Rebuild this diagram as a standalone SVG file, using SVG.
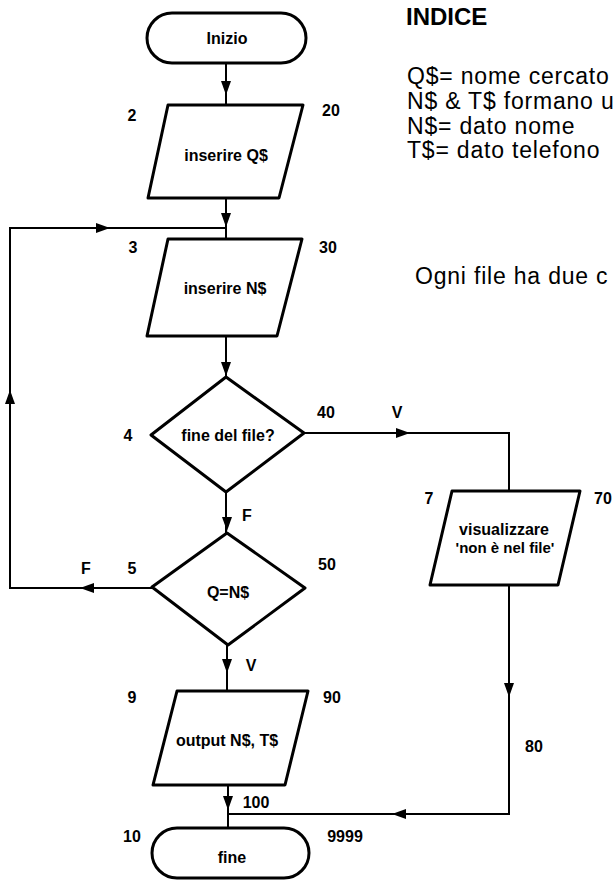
<svg xmlns="http://www.w3.org/2000/svg" width="615" height="881" viewBox="0 0 615 881">
<defs>
<marker id="ah" markerUnits="userSpaceOnUse" markerWidth="15" markerHeight="11" refX="14" refY="5" orient="auto">
<path d="M0,0 L14,5 L0,10 z" fill="#000"/>
</marker>
<style>
.shape{fill:#fff;stroke:#000;stroke-width:3;stroke-linejoin:round}
.line{fill:none;stroke:#000;stroke-width:2}
.arr{fill:none;stroke:none;marker-end:url(#ah)}
.t{font-family:"Liberation Sans",Arial,sans-serif;font-size:16px;font-weight:bold;text-anchor:middle;fill:#000}
.lbl{font-family:"Liberation Sans",Arial,sans-serif;font-size:16px;font-weight:bold;text-anchor:middle;fill:#000}
.note{font-family:"Liberation Sans",Arial,sans-serif;font-size:23px;letter-spacing:0.8px;fill:#000}
.head{font-family:"Liberation Sans",Arial,sans-serif;font-size:24px;font-weight:bold;fill:#000}
</style>
</defs>
<rect width="615" height="881" fill="#fff"/>

<g id="connectors">
<path class="line" d="M226,63 V105"/>
<path class="arr" d="M226,80 L226,95"/>
<path class="line" d="M226,198 V239"/>
<path class="arr" d="M226,212 L226,227"/>
<path class="line" d="M152,588 H10 V228 H226"/>
<path class="arr" d="M100,588 L80,588"/>
<path class="arr" d="M10,410 L10,390"/>
<path class="arr" d="M90,228 L110,228"/>
<path class="line" d="M226,336 V377"/>
<path class="arr" d="M226,360 L226,376"/>
<path class="line" d="M304,433 H509 V491"/>
<path class="arr" d="M390,433 L410,433"/>
<path class="line" d="M226,492 V533"/>
<path class="arr" d="M227,515 L227,531"/>
<path class="line" d="M509,585 V814 H228"/>
<path class="arr" d="M509,680 L509,697"/>
<path class="arr" d="M410,814 L392,814"/>
<path class="line" d="M227,645 V691"/>
<path class="arr" d="M227,658 L227,673"/>
<path class="line" d="M228,785 V828"/>
<path class="arr" d="M228,795 L228,810"/>
</g>

<g id="inizio">
<rect class="shape" x="147" y="13" width="159" height="50" rx="25" ry="25"/>
<text class="t" x="227" y="44">Inizio</text>
</g>

<g id="n2">
<polygon class="shape" points="168,105 303,105 279,198 148,198"/>
<text class="t" x="226" y="161">inserire Q$</text>
<text class="lbl" x="132" y="121">2</text>
<text class="lbl" x="331" y="116">20</text>
</g>

<g id="n3">
<polygon class="shape" points="168,239 302,239 277,336 147,336"/>
<text class="t" x="225" y="294">inserire N$</text>
<text class="lbl" x="133" y="253">3</text>
<text class="lbl" x="328" y="253">30</text>
</g>

<g id="n4">
<polygon class="shape" points="226,377 304,433 226,492 151,435"/>
<text class="t" x="228" y="441">fine del file?</text>
<text class="lbl" x="128" y="441">4</text>
<text class="lbl" x="326" y="418">40</text>
<text class="lbl" x="397" y="418">V</text>
<text class="lbl" x="247" y="521">F</text>
</g>

<g id="n5">
<polygon class="shape" points="227,533 305,588 228,645 152,587"/>
<text class="t" x="228" y="598">Q=N$</text>
<text class="lbl" x="132" y="574">5</text>
<text class="lbl" x="86" y="574">F</text>
<text class="lbl" x="327" y="570">50</text>
<text class="lbl" x="251" y="671">V</text>
</g>

<g id="n7">
<polygon class="shape" points="452,491 580,491 558,585 430,585"/>
<text class="t" x="504" y="535">visualizzare</text>
<text class="t" x="505" y="553" style="font-size:15px">'non è nel file'</text>
<text class="lbl" x="429" y="504">7</text>
<text class="lbl" x="603" y="504">70</text>
<text class="lbl" x="534" y="752">80</text>
</g>

<g id="n9">
<polygon class="shape" points="177,691 308,691 285,785 153,785"/>
<text class="t" x="227" y="746">output N$, T$</text>
<text class="lbl" x="132" y="703">9</text>
<text class="lbl" x="332" y="703">90</text>
<text class="lbl" x="256" y="808">100</text>
</g>

<g id="fine">
<rect class="shape" x="152" y="828" width="157" height="50" rx="25" ry="25"/>
<text class="t" x="232" y="863">fine</text>
<text class="lbl" x="132" y="842">10</text>
<text class="lbl" x="345" y="842">9999</text>
</g>

<g id="indice">
<text class="head" x="406" y="25">INDICE</text>
<text class="note" x="407" y="84"><tspan x="407" y="84">Q$= nome cercato</tspan><tspan x="407" y="109">N$ &amp; T$ formano u</tspan><tspan x="407" y="134">N$= dato nome</tspan><tspan x="407" y="158">T$= dato telefono</tspan></text>
<text class="note" x="415" y="284">Ogni file ha due c</text>
</g>
</svg>
